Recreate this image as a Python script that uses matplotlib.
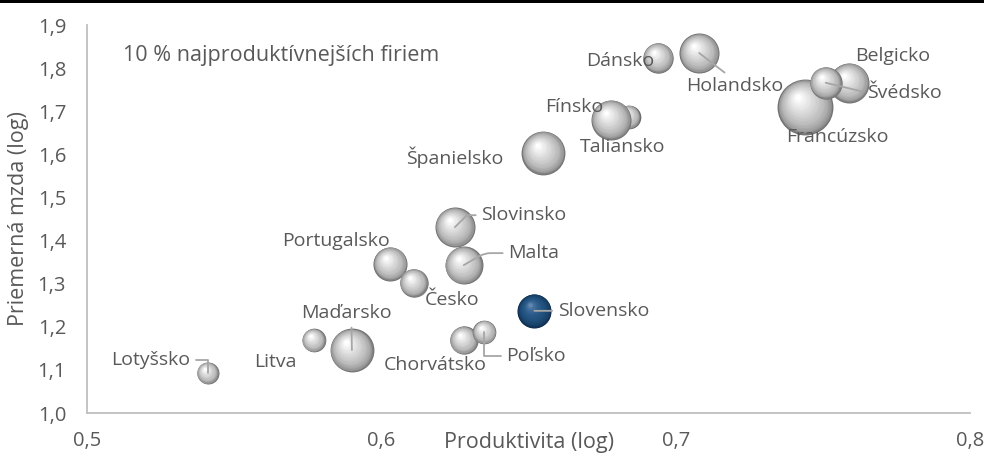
import matplotlib
matplotlib.use("Agg")
import matplotlib.pyplot as plt
import matplotlib.transforms as mtransforms
from matplotlib.patches import Rectangle
from matplotlib.ticker import FuncFormatter, MultipleLocator
import numpy as np
from matplotlib.colors import to_rgb

# ---- data (drawing order: later ones on top) ----
krajiny = ["Lotyšsko", "Litva", "Maďarsko", "Chorvátsko", "Poľsko", "Portugalsko",
           "Česko", "Slovinsko", "Malta", "Slovensko", "Španielsko", "Fínsko",
           "Taliansko", "Dánsko", "Holandsko", "Francúzsko", "Belgicko", "Švédsko"]
produktivita = [0.541, 0.577, 0.590, 0.628, 0.635, 0.603,
                0.611, 0.625, 0.628, 0.652, 0.655, 0.684,
                0.678, 0.694, 0.708, 0.744, 0.759, 0.751]
mzda = [1.093, 1.169, 1.146, 1.169, 1.188, 1.346,
        1.302, 1.431, 1.343, 1.237, 1.603, 1.687,
        1.680, 1.824, 1.835, 1.710, 1.766, 1.766]
velkost = [1.2, 1.4, 4.8, 2.0, 1.4, 2.9,
           2.0, 4.0, 3.6, 2.9, 4.8, 1.4,
           4.0, 2.3, 4.0, 7.8, 4.0, 2.6]
zvyraznena = "Slovensko"

x_ticks = [0.5, 0.6, 0.7, 0.8]
titulok = "10 % najproduktívnejších firiem"
x_nazov = "Produktivita (log)"
y_nazov = "Priemerná mzda (log)"

# ---- label layout (pixel offsets of label centre from bubble centre) ----
label_pos = {
    "Lotyšsko": (-57, 13), "Litva": (-38, -22), "Maďarsko": (-5, 37),
    "Chorvátsko": (-28, -25), "Poľsko": (52, -24), "Portugalsko": (-54, 23),
    "Česko": (38, -17), "Slovinsko": (69, 12), "Malta": (70, 12),
    "Slovensko": (69, 0), "Španielsko": (-88, -4), "Fínsko": (-54, 10),
    "Taliansko": (12, -27), "Dánsko": (-38, -3), "Holandsko": (36, -33),
    "Francúzsko": (32, -30), "Belgicko": (43, 27), "Švédsko": (79, -10),
}
leaders = {
    "Lotyšsko": dict(relpos=(1, 0.5), cs="angle,angleA=0,angleB=90,rad=0"),
    "Maďarsko": dict(relpos=(0.55, 0), cs="arc3"),
    "Poľsko": dict(relpos=(0, 0.5), cs="angle,angleA=180,angleB=90,rad=0"),
    "Slovinsko": dict(relpos=(0, 0.5), cs="angle,angleA=180,angleB=45,rad=0"),
    "Malta": dict(relpos=(0, 0.5), cs="angle,angleA=180,angleB=30,rad=6"),
    "Slovensko": dict(relpos=(0, 0.5), cs="arc3"),
    "Fínsko": dict(relpos=(1, 0.5), cs="arc3", below=True),
    "Holandsko": dict(relpos=(0.45, 1), cs="arc3"),
    "Švédsko": dict(relpos=(0, 0.5), cs="arc3"),
}

DPI = 100
W, H = 984, 459
TXT = "#595959"
FONT = ["Open Sans", "DejaVu Sans"]
plt.rcParams["font.family"] = FONT
LBL = 14

fig = plt.figure(figsize=(W / DPI, H / DPI), dpi=DPI)
ax = fig.add_axes([87 / W, 1 - 413 / H, (970 - 87) / W, (413 - 25) / H])
ax.set_xlim(0.5, 0.8)
ax.set_ylim(1.0, 1.9)

for s in ["top", "right"]:
    ax.spines[s].set_visible(False)
for s in ["left", "bottom"]:
    ax.spines[s].set_color("#bfbfbf")
    ax.spines[s].set_linewidth(1.3)

ax.set_xticks(x_ticks)
ax.yaxis.set_major_locator(MultipleLocator(0.1))
fmt = FuncFormatter(lambda v, p: f"{v:.1f}".replace(".", ","))
ax.xaxis.set_major_formatter(fmt)
ax.yaxis.set_major_formatter(fmt)
ax.tick_params(axis="x", length=0, pad=13, labelsize=14.5, labelcolor=TXT)
ax.tick_params(axis="y", length=0, pad=15, labelsize=14.5, labelcolor=TXT)

ax.set_xlabel(x_nazov, fontsize=15.5, color=TXT, va="center")
ax.xaxis.set_label_coords(0.5, -0.077)
ax.set_ylabel(y_nazov, fontsize=15.5, color=TXT, va="center")
ax.yaxis.set_label_coords(-0.078, 0.5)

ax.text((123 - 87) / 883, 1 - (55 - 25) / 388, titulok, transform=ax.transAxes,
        fontsize=15.5, color=TXT, ha="left", va="center")


def lerp_stops(stops, t):
    ts = [s[0] for s in stops]
    cs = [np.array(to_rgb(s[1])) for s in stops]
    for i in range(len(ts) - 1):
        if ts[i] <= t <= ts[i + 1]:
            u = (t - ts[i]) / (ts[i + 1] - ts[i])
            return tuple(cs[i] * (1 - u) + cs[i + 1] * u)
    return tuple(cs[-1])


gray_stops = [(0, "#6c6c6c"), (0.07, "#979797"), (0.25, "#b8b8b8"),
              (0.55, "#d6d6d6"), (0.85, "#f1f1f1"), (1, "#ffffff")]
blue_stops = [(0, "#0c2a48"), (0.07, "#163c62"), (0.3, "#1f4e79"),
              (0.6, "#2a5b8a"), (0.85, "#426f9c"), (1, "#6689b2")]

N = 30
for i, (name, x, y, v) in enumerate(zip(krajiny, produktivita, mzda, velkost)):
    r_px = 10 * np.sqrt(v)
    stops = blue_stops if name == zvyraznena else gray_stops
    zbase = 2 + i * 0.05
    for k in range(N):
        t = k / (N - 1)
        rad = r_px * (1 - 0.92 * t)
        dx = -0.27 * r_px * t
        dy = 0.36 * r_px * t
        tr = mtransforms.offset_copy(ax.transData, fig=fig, x=dx, y=dy, units="dots")
        ax.scatter([x], [y], s=(2 * rad * 72 / DPI) ** 2, color=[lerp_stops(stops, t)],
                   linewidths=0, transform=tr, zorder=zbase + k * 0.001, clip_on=False)

# leaders + labels
for i, (name, x, y) in enumerate(zip(krajiny, produktivita, mzda)):
    dx, dy = label_pos[name]
    if name in leaders:
        L = leaders[name]
        z = (2 + i * 0.05 + 0.048) if L.get("below") else 5
        ax.annotate(name, xy=(x, y), xytext=(dx, dy), textcoords="offset pixels",
                    ha="center", va="center", fontsize=LBL, color="none",
                    arrowprops=dict(arrowstyle="-", color="#a6a6a6", lw=1.3,
                                    relpos=L["relpos"], shrinkA=2, shrinkB=0,
                                    connectionstyle=L["cs"]),
                    zorder=z, annotation_clip=False)
    ax.annotate(name, xy=(x, y), xytext=(dx, dy), textcoords="offset pixels",
                ha="center", va="center", fontsize=LBL, color=TXT, zorder=6,
                annotation_clip=False)

fig.patches.append(Rectangle((0, 1 - 3 / H), 1, 3 / H, transform=fig.transFigure,
                             facecolor="black", edgecolor="none"))

fig.savefig("out.png", dpi=DPI)
